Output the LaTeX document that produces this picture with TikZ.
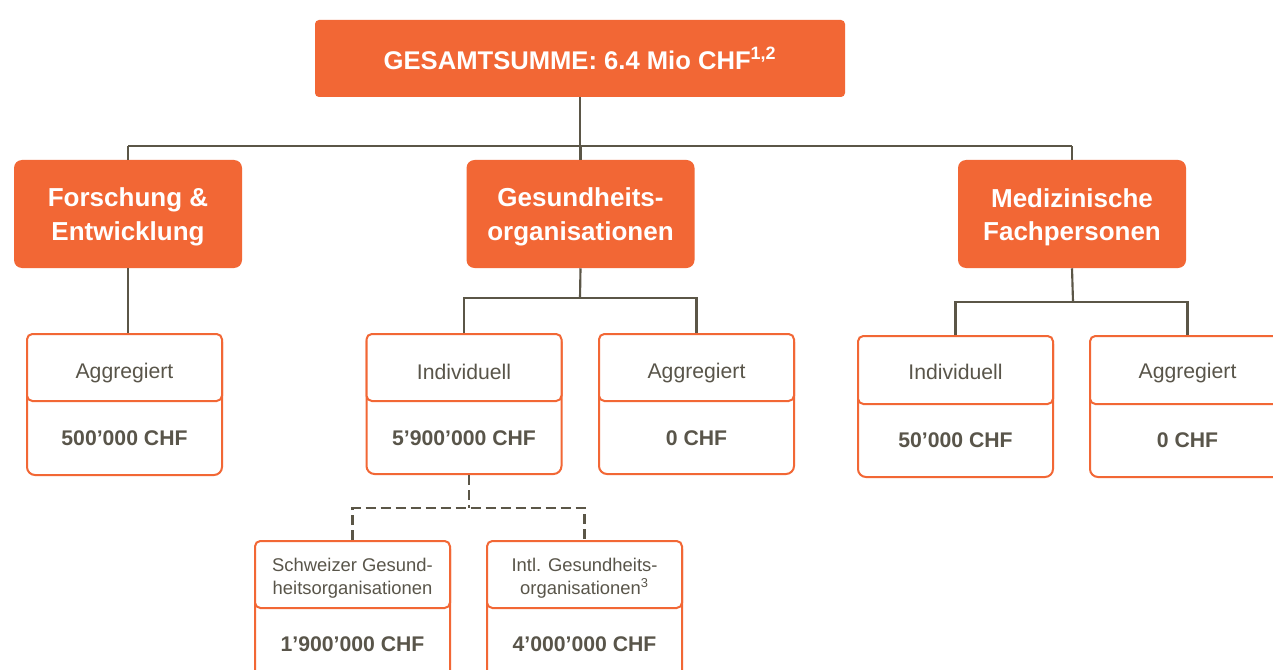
\documentclass[tikz,border=0pt]{standalone}
\usepackage{fontspec}
\setmainfont{Liberation Sans}
\definecolor{orng}{HTML}{F26735}
\definecolor{txtg}{HTML}{59554A}
\definecolor{lineg}{HTML}{5B5647}
\begin{document}
\begin{tikzpicture}[x=0.75pt,y=-0.75pt,
  topbox/.style={fill=orng,draw=none,rounded corners=3pt,text=white,font=\bfseries\fontsize{19.2}{22}\selectfont,minimum width=530*0.75pt,minimum height=77*0.75pt,inner sep=0pt},
  catbox/.style={fill=orng,draw=none,rounded corners=6pt,minimum width=228*0.75pt,minimum height=108*0.75pt,inner sep=0pt},
  cattext/.style={text=white,font=\bfseries\fontsize{19.5}{25}\selectfont,align=center,inner sep=0pt},
  subouter/.style={draw=orng,line width=1.5pt,fill=white,rounded corners=6pt,minimum width=195*0.75pt,minimum height=#1*0.75pt,inner sep=0pt},
  subhead/.style={draw=orng,line width=1.5pt,fill=white,rounded corners=4pt,minimum width=195*0.75pt,minimum height=67*0.75pt,inner sep=0pt,anchor=north},
  headtext/.style={text=txtg,font=\fontsize{15.9}{19}\selectfont,align=center,inner sep=0pt},
  smalltext/.style={headtext,font=\fontsize{13.8}{17.3}\selectfont},
  amount/.style={text=txtg,font=\bfseries\fontsize{15.9}{19}\selectfont,inner sep=0pt},
  conn/.style={draw=lineg,line width=1.6pt},
  dconn/.style={draw=lineg,line width=1.6pt,dash pattern=on 7.5pt off 3.75pt}
]
\clip (0,0) rectangle (1273,670);
\fill[white] (0,0) rectangle (1273,670);

% top
\node[topbox] (top) at (580,58.5) {GESAMTSUMME: 6.4 Mio CHF\textsuperscript{1,2}};
% categories
\node[catbox] (fe) at (128,214) {};
\node[cattext] (fet) at (128,217) {Forschung \&\\Entwicklung};
\node[catbox] (go) at (580.5,214) {};
\node[cattext] (got) at (580.5,217) {Gesundheits-\\organisationen};
\node[catbox] (med) at (1072,214) {};
\node[cattext] (medt) at (1072,217) {Medizinische\\Fachpersonen};

% sub boxes
\node[subouter=141] (feA) at (124.5,404.5) {};
\node[subhead] (feAh) at (feA.north) {};
\node[headtext] (feAt) at (124.5,373) {Aggregiert};
\node[amount] (feAv) at (124.5,438) {500’000 CHF};

\node[subouter=140] (goI) at (464,404) {};
\node[subhead] (goIh) at (goI.north) {};
\node[headtext] (goIt) at (464,372) {Individuell};
\node[amount] (goIv) at (464,438) {5’900’000 CHF};

\node[subouter=140] (goA) at (696.5,404) {};
\node[subhead] (goAh) at (goA.north) {};
\node[headtext] (goAt) at (696.5,373) {Aggregiert};
\node[amount] (goAv) at (696.5,438) {0 CHF};

\node[subouter=141] (medI) at (955.5,406.5) {};
\node[subhead,minimum height=68*0.75pt] (medIh) at (medI.north) {};
\node[headtext] (medIt) at (955.5,372) {Individuell};
\node[amount] (medIv) at (955.5,440) {50’000 CHF};

\node[subouter=141] (medA) at (1187.5,406.5) {};
\node[subhead,minimum height=68*0.75pt] (medAh) at (medA.north) {};
\node[headtext] (medAt) at (1187.5,373) {Aggregiert};
\node[amount] (medAv) at (1187.5,440) {0 CHF};

\node[subouter=160] (ch) at (352.5,621) {};
\node[subhead] (chh) at (ch.north) {};
\node[smalltext] (cht) at (352.5,578) {Schweizer Gesund-\\heitsorganisationen};
\node[amount] (chv) at (352.5,644) {1’900’000 CHF};

\node[subouter=160] (intl) at (584.5,621) {};
\node[subhead] (intlh) at (intl.north) {};
\node[smalltext] (intlt) at (584.5,578) {Intl. Gesundheits-\\organisationen\textsuperscript{3}};
\node[amount] (intlv) at (584.5,644) {4’000’000 CHF};

% connectors
\coordinate (j1) at (580,146);
\coordinate (j2) at (580,298);
\coordinate (j3) at (1073,302);
\coordinate (j4) at (469,508);
\draw[conn] (top.south) -- (j1);
\draw[conn] (fe.north |- j1) -- (med.north |- j1);
\draw[conn] (fe.north) -- (fe.north |- j1);
\draw[conn] (go.north) -- (go.north |- j1);
\draw[conn] (med.north) -- (med.north |- j1);

\draw[conn] (fe.south) -- (fe.south |- feA.north);

\draw[conn] (go.south) -- (j2);
\draw[conn] (goI.north) -- (goI.north |- j2) -- (goA.north |- j2) -- (goA.north);

\draw[conn] (med.south) -- (j3);
\draw[conn] (medI.north) -- (medI.north |- j3) -- (medA.north |- j3) -- (medA.north);

\draw[dconn] (j4 |- goI.south) -- (j4);
\draw[dconn] (ch.north) -- (ch.north |- j4) -- (intl.north |- j4) -- (intl.north);
\end{tikzpicture}
\end{document}
